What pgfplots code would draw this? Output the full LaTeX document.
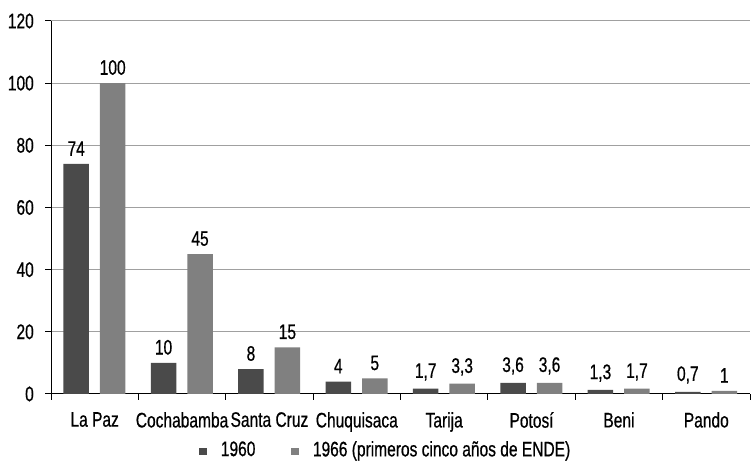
\documentclass[border=0pt]{standalone}
\usepackage{pgfplots}
\pgfplotsset{compat=1.18}
\usepackage{fontspec}
\setmainfont[FakeStretch=0.74,FakeBold=0.6]{Liberation Sans}
\definecolor{cdark}{HTML}{4A4A4A}
\definecolor{clight}{HTML}{808080}
\definecolor{cgrid}{HTML}{A0A0A0}
\begin{document}
\fontsize{21}{25}\selectfont
\begin{tikzpicture}
\useasboundingbox (0,0) rectangle (751pt,462pt);
\begin{axis}[
  at={(51pt,68pt)}, anchor=south west,
  scale only axis,
  width=699pt, height=373pt,
  xmin=-0.5, xmax=7.5, ymin=0, ymax=120,
  ytick={0,20,...,120},
  xtick={0,...,7},
  xticklabels={La Paz,Cochabamba,Santa Cruz,Chuquisaca,Tarija,Potosí,Beni,Pando},
  minor xtick={-0.5,0.5,...,7.5},
  major x tick style={draw=none},
  tick align=outside,
  major tick length=6pt, minor tick length=6pt,
  tick style={black, line width=1pt},
  ymajorgrids, grid style={cgrid, line width=1pt},
  axis x line*=bottom, axis y line*=left,
  axis line style={black, line width=1pt},
  ticklabel style={font=\fontsize{21}{25}\selectfont},
  xticklabel style={yshift=-5pt},
  yticklabel style={xshift=-4pt},
  /pgf/number format/assume math mode=true,
  ybar, bar width=25.5pt,
  nodes near coords,
  nodes near coords style={/pgf/number format/use comma, font=\fontsize{21}{25}\selectfont, yshift=1pt},
  legend style={at={(0.479,-0.151)}, anchor=center, draw=none, legend columns=2, font=\fontsize{21}{25}\selectfont,
     /tikz/every odd column/.append style={column sep=12pt},
     /tikz/every even column/.append style={column sep=34pt}},
  legend image code/.code={\fill[#1] (0pt,-4.5pt) rectangle (7.5pt,2.5pt);},
  clip=false,
]
\addplot[fill=cdark, draw=none, bar shift=-18.5pt] coordinates {(0,74) (1,10) (2,8) (3,4) (4,1.7) (5,3.6) (6,1.3) (7,0.7)};
\addplot[fill=clight, draw=none, bar shift=18pt] coordinates {(0,100) (1,45) (2,15) (3,5) (4,3.3) (5,3.6) (6,1.7) (7,1)};
\legend{1960,1966 (primeros cinco años de ENDE)}
\end{axis}
\end{tikzpicture}
\end{document}
